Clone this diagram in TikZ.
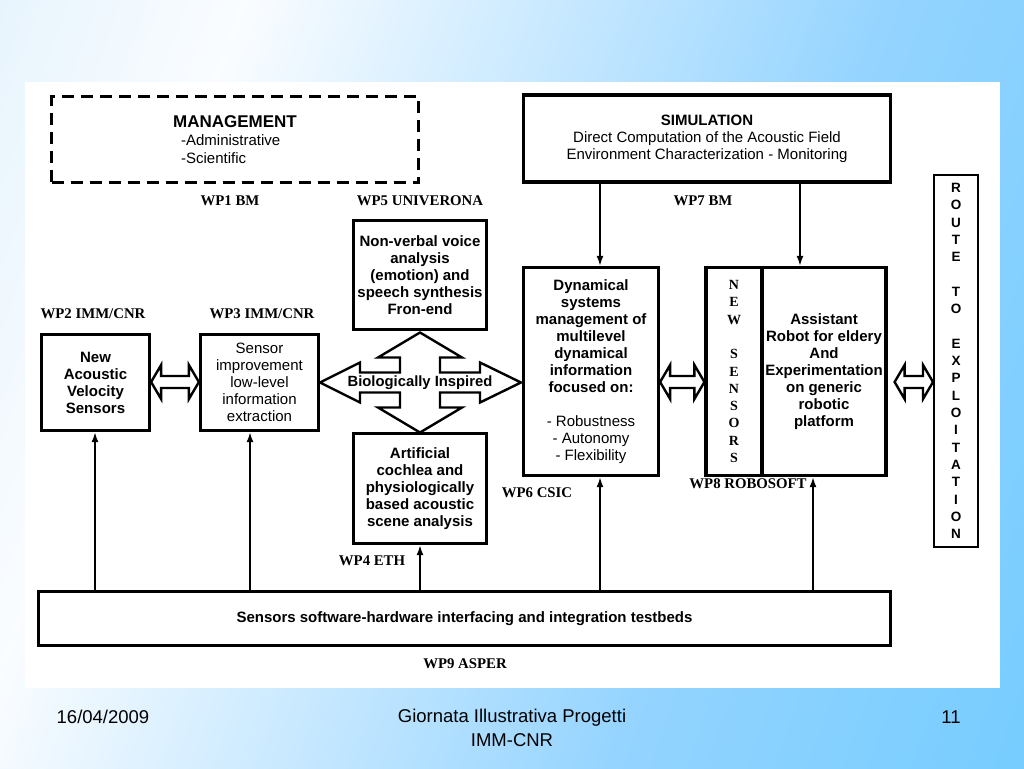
\documentclass[tikz,border=0pt]{standalone}
\usepackage{fontspec}
\setmainfont{Liberation Sans}
\newfontfamily\wpfont{Liberation Serif}
\usetikzlibrary{arrows.meta,calc}

\pgfdeclarehorizontalshading{slidebg}{100bp}{rgb(0bp)=(0.80,0.91,0.98); rgb(30bp)=(0.98,0.99,1); rgb(62bp)=(0.58,0.83,1); rgb(100bp)=(0.36,0.78,1)}

\tikzset{
  box/.style={draw, line width=3.2pt, align=center, inner sep=2pt,
    font=\bfseries\fontsize{15}{17}\selectfont},
  dashbox/.style={draw, line width=3.5pt, dash pattern=on 12pt off 7pt,
    align=left, font=\fontsize{15}{18}\selectfont},
  wp/.style={font=\wpfont\bfseries\fontsize{14.8}{16}\selectfont},
  flow/.style={-{Latex[length=10pt,width=7pt]}, line width=1.8pt},
  hollow/.style={draw, line width=2.4pt, fill=white, line join=miter},
  foot/.style={font=\fontsize{18.5}{24}\selectfont, align=center}
}

% hollow double arrow between two tips
\newcommand{\dblarrow}[2]{%
  \coordinate (da) at (#1);
  \coordinate (db) at (#2);
  \draw[hollow] (da) -- ++(10,-17) -- ++(0,11) -- ($(db)+(-10,-6)$) -- ++(0,-11)
    -- (db) -- ++(-10,17) -- ++(0,-11) -- ($(da)+(10,6)$) -- ++(0,11) -- cycle;
}

\begin{document}
\begin{tikzpicture}[x=1pt,y=-1pt]
  \useasboundingbox (0,0) rectangle (1024,768);
  \shade[shading=slidebg, shading angle=-20] (0,0) rectangle (1024,768);
  \fill[white] (25,82) rectangle (1000,688);

  % work package labels
  \node[wp] (wp1) at (230,201) {WP1 BM};
  \node[wp] (wp5) at (420,201) {WP5 UNIVERONA};
  \node[wp] (wp7) at (703,201) {WP7 BM};
  \node[wp] (wp2) at (93,314) {WP2 IMM/CNR};
  \node[wp] (wp3) at (262,314) {WP3 IMM/CNR};
  \node[wp] (wp4) at (372,561) {WP4 ETH};
  \node[wp] (wp6) at (537,493) {WP6 CSIC};
  \node[wp] (wp8) at (748,484) {WP8 ROBOSOFT};
  \node[wp] (wp9) at (465,664) {WP9 ASPER};

  % boxes
  \node[dashbox, minimum width=367pt, minimum height=86pt] (mgmt) at (235,139.5)
    {{\bfseries\fontsize{17}{19}\selectfont MANAGEMENT}\\\hspace*{8pt}-Administrative\\\hspace*{8pt}-Scientific};
  \node[box, font=\fontsize{15}{17}\selectfont, minimum width=367pt, minimum height=87pt] (sim) at (707,138.5)
    {\textbf{SIMULATION}\\Direct Computation of the Acoustic Field\\Environment Characterization - Monitoring};
  \node[box, line width=2pt, font=\bfseries\fontsize{13.5}{17.3}\selectfont, minimum width=44pt, minimum height=372pt] (route) at (956,361)
    {R\\O\\U\\T\\E\\[17.3pt]T\\O\\[17.3pt]E\\X\\P\\L\\O\\I\\T\\A\\T\\I\\O\\N};
  \node[box, minimum width=108pt, minimum height=96pt] (nav) at (95.5,382.5)
    {New\\Acoustic\\Velocity\\Sensors};
  \node[box, font=\fontsize{15}{17}\selectfont, minimum width=118pt, minimum height=96pt] (sensor) at (259.5,382.5)
    {Sensor\\improvement\\low-level\\information\\extraction};
  \node[box, minimum width=133pt, minimum height=109pt] (voice) at (420,275)
    {Non-verbal voice\\analysis\\(emotion) and\\speech synthesis\\Fron-end};
  \node[box, minimum width=133pt, minimum height=110pt] (cochlea) at (420,488.5)
    {Artificial\\cochlea and\\physiologically\\based acoustic\\scene analysis};
  \node[box, minimum width=135pt, minimum height=208pt] (dyn) at (591,371.5)
    {Dynamical\\systems\\management of\\multilevel\\dynamical\\information\\focused on:\\[17pt]
     {\mdseries - Robustness}\\{\mdseries - Autonomy}\\{\mdseries - Flexibility}};
  \node[box, font=\wpfont\bfseries\fontsize{14}{17.3}\selectfont, minimum width=56pt, minimum height=208pt] (newsens) at (734,371.5)
    {N\\E\\W\\[17.3pt]S\\E\\N\\S\\O\\R\\S};
  \node[box, minimum width=124pt, minimum height=208pt] (assist) at (824,371.5)
    {Assistant\\Robot for eldery\\And\\Experimentation\\on generic\\robotic\\platform};
  \node[box, font=\bfseries\fontsize{15}{17}\selectfont, minimum width=852pt, minimum height=54pt] (bar) at (464.5,618.5)
    {Sensors software-hardware interfacing and integration testbeds};

  % arrows from simulation
  \coordinate (c1) at (600,0);
  \coordinate (c2) at (800,0);
  \draw[flow] (sim.south -| c1) -- (dyn.north -| c1);
  \draw[flow] (sim.south -| c2) -- (assist.north -| c2);

  % arrows from testbeds
  \foreach \x/\n in {95/nav,250/sensor,420/cochlea,600/dyn,813/assist} {
    \coordinate (x\n) at (\x,0);
    \draw[flow] (bar.north -| x\n) -- (\n.south -| x\n);
  }

  % hollow double arrows
  \coordinate (ay) at (0,382);
  \dblarrow{nav.east |- ay}{sensor.west |- ay}
  \dblarrow{dyn.east |- ay}{newsens.west |- ay}
  \coordinate (r1) at ($(assist.east |- ay)+(7,0)$);
  \dblarrow{r1}{route.west |- ay}

  % four-way arrow
  \coordinate (bio) at (sensor.east -| voice.south);
  \begin{scope}[shift={(bio)}]
    \draw[hollow] (0,-50) -- (42,-25) -- (20,-25) -- (20,-10) -- (60,-10) -- (60,-20)
      -- (101,0) -- (60,20) -- (60,10) -- (20,10) -- (20,25) -- (42,25) -- (0,50)
      -- (-42,25) -- (-20,25) -- (-20,10) -- (-60,10) -- (-60,20) -- (-100,0)
      -- (-60,-20) -- (-60,-10) -- (-20,-10) -- (-20,-25) -- (-42,-25) -- cycle;
  \end{scope}
  \node[font=\bfseries\fontsize{14.8}{17}\selectfont] (biotext) at (bio) {Biologically Inspired};

  % footer
  \node[foot] (date) at (103,717) {16/04/2009};
  \node[foot, anchor=north] (title) at (512,706) {Giornata Illustrativa Progetti\\IMM-CNR};
  \node[foot] (page) at (951,717) {11};
\end{tikzpicture}
\end{document}
